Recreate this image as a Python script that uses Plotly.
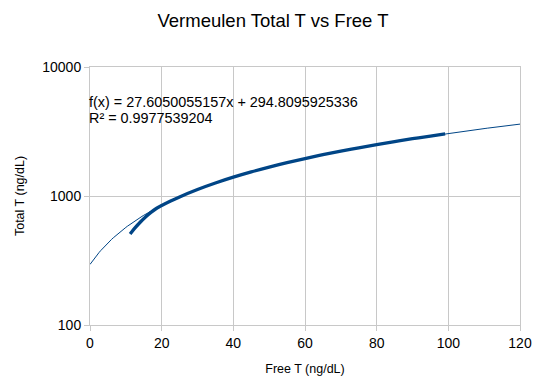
import plotly.graph_objects as go
import numpy as np

# Data
free_t = [11.2, 12.5, 14.0, 15.5, 17.0, 18.5, 20.0, 22.5, 25.0, 30.0, 35.0, 40.0, 45.0, 50.0,
          55.0, 60.0, 65.0, 70.0, 75.0, 80.0, 85.0, 90.0, 95.0, 99.1]
total_t = [507, 563, 626, 688, 747, 800, 843, 914, 984, 1123, 1261, 1399, 1537, 1675,
           1813, 1951, 2089, 2227, 2365, 2503, 2641, 2779, 2917, 3030]

trend_slope = 27.6050055157
trend_intercept = 294.8095925336
trend_r2 = 0.9977539204
trend_x_range = [0, 120]

x_ticks = [0, 20, 40, 60, 80, 100, 120]
y_ticks = [100, 1000, 10000]

FONT = "Liberation Sans, Arial, sans-serif"
BLUE = "#004586"
GRID = "#c8c8c8"

tx = np.linspace(trend_x_range[0], trend_x_range[1], 241)
ty = trend_slope * tx + trend_intercept

fig = go.Figure()
fig.add_trace(go.Scatter(x=tx, y=ty, mode="lines", line=dict(color=BLUE, width=1),
                         showlegend=False, hoverinfo="skip"))
fig.add_trace(go.Scatter(x=free_t, y=total_t, mode="lines",
                         line=dict(color=BLUE, width=3.3, shape="spline", smoothing=1.0),
                         showlegend=False))

fig.add_annotation(xref="paper", yref="paper", x=-0.007, y=0.8655, xanchor="left", yanchor="middle",
                   text=f"f(x) = {trend_slope:.10f}x + {trend_intercept:.10f}", showarrow=False,
                   font=dict(family=FONT, size=14.4, color="black"))
fig.add_annotation(xref="paper", yref="paper", x=-0.007, y=0.8035, xanchor="left", yanchor="middle",
                   text=f"R² = {trend_r2:.10f}", showarrow=False,
                   font=dict(family=FONT, size=14.4, color="black"))

fig.update_layout(
    width=546, height=388,
    margin=dict(l=90, r=26, t=67, b=63),
    paper_bgcolor="white", plot_bgcolor="white",
    font=dict(family=FONT, size=14, color="black"),
    title=dict(text="Vermeulen Total T vs Free T", x=0.5, xanchor="center", y=0.948, yanchor="middle",
               font=dict(family=FONT, size=18.5, color="black")),
)
fig.update_xaxes(range=[0, 120], tickvals=x_ticks, showgrid=True, gridcolor=GRID, gridwidth=1,
                 showline=True, linecolor=GRID, mirror=True, ticks="outside", ticklen=5,
                 tickcolor=GRID, zeroline=False,
                 title=dict(text="Free T (ng/dL)", font=dict(family=FONT, size=12.5), standoff=14),
                 tickfont=dict(size=14))
fig.update_yaxes(type="log", range=[2, 4], tickvals=y_ticks, ticktext=[str(v) for v in y_ticks],
                 showgrid=True, gridcolor=GRID, gridwidth=1,
                 showline=True, linecolor=GRID, mirror=True, ticks="outside", ticklen=5,
                 tickcolor=GRID, zeroline=False,
                 title=dict(text="Total T (ng/dL)", font=dict(family=FONT, size=12.5), standoff=14),
                 tickfont=dict(size=14))

fig.write_html("out.html", config={"displayModeBar": False},
               post_script="document.body.style.margin='0';")
